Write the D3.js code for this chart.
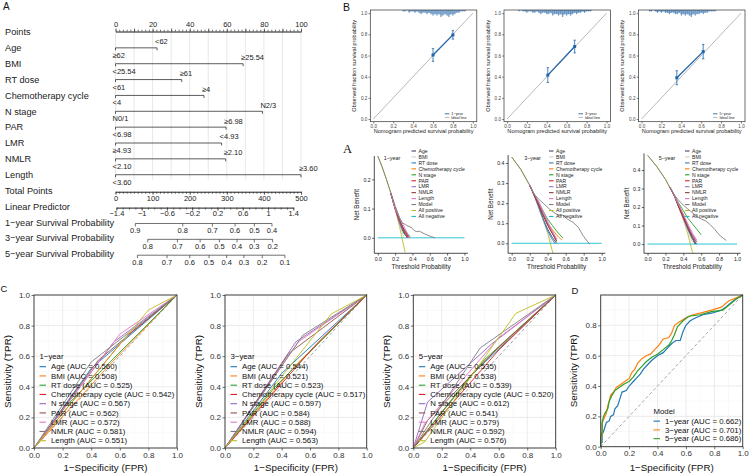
<!DOCTYPE html>
<html>
<head>
<meta charset="utf-8">
<script src="https://cdn.jsdelivr.net/npm/d3@7"></script>
<style>
body { margin: 0; background: #fff; }
svg { display: block; font-family: "Liberation Sans", Arial, sans-serif; }
</style>
</head>
<body>
<div id="chart"></div>
<script>
"use strict";

// ---------------- data ----------------
// Nomogram
let nomoVars = ["Age", "BMI", "RT dose", "Chemotherapy cycle", "N stage", "PAR", "LMR", "NMLR", "Length"];
let nomoPoints = [22.4, 68.8, 35.7, 47.7, 79.2, 59.6, 57.2, 59.4, 100];
let nomoHighLabel = ["<62", "≥25.54", "≥61", "≥4", "N2/3", "≥6.98", "<4.93", "≥2.10", "≥3.60"];
let nomoLowLabel = ["≥62", "<25.54", "<61", "<4", "N0/1", "<6.98", "≥4.93", "<2.10", "<3.60"];
let pointsTicks = [0, 20, 40, 60, 80, 100];
let totalTicks = [0, 100, 200, 300, 400, 500];
let lpTicks = [-1.4, -1, -0.6, -0.2, 0.2, 0.6, 1, 1.4];
let survNames = ["1−year Survival Probability", "3−year Survival Probability", "5−year Survival Probability"];
let survTicks = [
    [0.9, 0.8, 0.7, 0.6, 0.5, 0.4],
    [0.8, 0.7, 0.6, 0.5, 0.4, 0.3, 0.2],
    [0.8, 0.7, 0.6, 0.5, 0.4, 0.3, 0.2, 0.1]
];
// cloglog(S) = linear predictor + shift
let survShift = [-1.15, -0.597, -0.433];

// Calibration
let calYears = ["1−year", "3−year", "5−year"];
let calPred = [[0.60, 0.80], [0.41, 0.68], [0.355, 0.62]];
let calObs = [[0.605, 0.795], [0.415, 0.685], [0.39, 0.637]];
let calErr = [[0.06, 0.04], [0.07, 0.06], [0.066, 0.068]];
let rugStart = [0.30, 0.12, 0.08];
let rugCounts = [
    [1, 1, 0, 2, 1, 1, 2, 1, 2, 3, 2, 2, 3, 2, 3, 4, 3, 4, 3, 5, 4, 3, 4, 5, 3, 4, 3, 2, 2, 1, 1, 1],
    [1, 0, 1, 1, 2, 1, 1, 2, 2, 1, 2, 3, 2, 2, 3, 3, 2, 4, 3, 3, 4, 3, 5, 3, 4, 3, 4, 3, 2, 3, 2, 2, 1, 2, 1, 1, 1],
    [1, 1, 0, 1, 2, 1, 2, 1, 2, 2, 3, 2, 2, 3, 3, 2, 4, 3, 4, 3, 4, 5, 3, 4, 3, 3, 2, 3, 2, 2, 1, 1, 1, 1]
];

// Decision curves
let dcaNames = ["Age", "BMI", "RT dose", "Chemotherapy cycle", "N stage", "PAR", "LMR", "NMLR", "Length", "Model", "All positive", "All negative"];
let dcaColors = ["#3d4868", "#d8cec4", "#2f7ebc", "#ff7f0e", "#2ca02c", "#d62728", "#9a72c4", "#8c3b3b", "#e377c2", "#7f7f7f", "#bcbd22", "#17becf"];
let dca1 = [
    [[0.15, 0.153], [0.2, 0.1], [0.25, 0.055], [0.3, 0.02], [0.34, 0.0]],
    [[0.15, 0.153], [0.2, 0.1], [0.25, 0.045], [0.3, 0.005], [0.32, -0.005]],
    [[0.15, 0.153], [0.2, 0.1], [0.25, 0.05], [0.3, 0.015], [0.35, 0.0]],
    [[0.15, 0.153], [0.2, 0.1], [0.25, 0.055], [0.3, 0.025], [0.36, 0.0]],
    [[0.15, 0.153], [0.2, 0.1], [0.25, 0.06], [0.3, 0.03], [0.37, 0.005]],
    [[0.15, 0.153], [0.2, 0.1], [0.25, 0.058], [0.3, 0.022], [0.35, 0.0]],
    [[0.15, 0.153], [0.2, 0.1], [0.25, 0.06], [0.3, 0.028], [0.36, 0.002]],
    [[0.15, 0.153], [0.2, 0.1], [0.25, 0.062], [0.3, 0.03], [0.35, 0.005]],
    [[0.15, 0.153], [0.2, 0.1], [0.25, 0.07], [0.3, 0.04], [0.35, 0.01], [0.38, 0.0]],
    [[0, 0.28], [0.05, 0.243], [0.1, 0.2], [0.15, 0.155], [0.2, 0.11], [0.25, 0.07], [0.28, 0.052], [0.32, 0.045], [0.35, 0.04], [0.39, 0.035], [0.42, 0.025], [0.45, 0.021], [0.48, 0.023], [0.51, 0.018], [0.55, 0.012], [0.6, 0.006], [0.66, 0.0]],
    [[0, 0.28], [0.05, 0.242], [0.1, 0.2], [0.15, 0.153], [0.2, 0.1], [0.25, 0.04], [0.3, -0.029], [0.315, -0.05]],
    [[0, 0], [1, 0]]
];
let dca3 = [
    [[0.2, 0.288], [0.25, 0.24], [0.3, 0.18], [0.35, 0.12], [0.4, 0.07], [0.45, 0.03], [0.5, 0.0]],
    [[0.2, 0.288], [0.25, 0.24], [0.3, 0.17], [0.35, 0.11], [0.4, 0.05], [0.45, 0.0]],
    [[0.2, 0.288], [0.25, 0.24], [0.3, 0.18], [0.35, 0.12], [0.4, 0.06], [0.45, 0.02], [0.48, 0.0]],
    [[0.2, 0.288], [0.25, 0.24], [0.3, 0.19], [0.35, 0.14], [0.4, 0.1], [0.45, 0.07], [0.5, 0.04], [0.56, 0.015]],
    [[0.2, 0.288], [0.25, 0.24], [0.3, 0.2], [0.35, 0.16], [0.4, 0.12], [0.45, 0.09], [0.5, 0.06], [0.57, 0.025]],
    [[0.2, 0.288], [0.25, 0.24], [0.3, 0.19], [0.35, 0.14], [0.4, 0.09], [0.45, 0.05], [0.5, 0.01]],
    [[0.2, 0.288], [0.25, 0.245], [0.3, 0.2], [0.35, 0.15], [0.4, 0.1], [0.45, 0.06], [0.5, 0.02]],
    [[0.2, 0.288], [0.25, 0.24], [0.3, 0.19], [0.35, 0.14], [0.4, 0.09], [0.45, 0.05], [0.5, 0.01]],
    [[0.2, 0.288], [0.25, 0.245], [0.3, 0.21], [0.35, 0.16], [0.4, 0.11], [0.45, 0.06], [0.5, 0.02]],
    [[0, 0.43], [0.1, 0.37], [0.2, 0.29], [0.25, 0.245], [0.3, 0.22], [0.35, 0.2], [0.42, 0.17], [0.48, 0.15], [0.52, 0.14], [0.57, 0.14], [0.62, 0.12], [0.68, 0.105], [0.74, 0.08], [0.79, 0.04], [0.84, 0.01], [0.87, -0.005]],
    [[0, 0.43], [0.1, 0.367], [0.2, 0.288], [0.3, 0.186], [0.35, 0.123], [0.4, 0.05], [0.45, -0.036], [0.46, -0.05]],
    [[0, 0], [1, 0]]
];
let dca5 = [
    [[0.25, 0.307], [0.3, 0.26], [0.35, 0.2], [0.4, 0.14], [0.45, 0.08], [0.5, 0.03], [0.53, 0.0]],
    [[0.25, 0.307], [0.3, 0.26], [0.35, 0.2], [0.4, 0.13], [0.45, 0.07], [0.5, 0.01]],
    [[0.25, 0.307], [0.3, 0.26], [0.35, 0.2], [0.4, 0.14], [0.45, 0.08], [0.5, 0.03], [0.55, 0.0]],
    [[0.25, 0.307], [0.3, 0.26], [0.35, 0.21], [0.4, 0.15], [0.45, 0.1], [0.5, 0.05], [0.55, 0.02]],
    [[0.25, 0.307], [0.3, 0.26], [0.35, 0.22], [0.4, 0.18], [0.45, 0.14], [0.5, 0.11], [0.55, 0.08], [0.6, 0.05]],
    [[0.25, 0.307], [0.3, 0.26], [0.35, 0.2], [0.4, 0.14], [0.45, 0.09], [0.5, 0.04], [0.55, 0.01]],
    [[0.25, 0.307], [0.3, 0.26], [0.35, 0.21], [0.4, 0.16], [0.45, 0.1], [0.5, 0.05], [0.55, 0.01]],
    [[0.25, 0.307], [0.3, 0.26], [0.35, 0.2], [0.4, 0.15], [0.45, 0.09], [0.5, 0.04], [0.54, 0.0]],
    [[0.25, 0.307], [0.3, 0.26], [0.35, 0.21], [0.4, 0.16], [0.45, 0.11], [0.5, 0.06], [0.55, 0.02]],
    [[0, 0.48], [0.1, 0.42], [0.2, 0.35], [0.25, 0.305], [0.3, 0.265], [0.35, 0.235], [0.4, 0.21], [0.45, 0.19], [0.5, 0.17], [0.55, 0.15], [0.6, 0.135], [0.65, 0.125], [0.7, 0.105], [0.75, 0.08], [0.8, 0.05], [0.85, 0.03], [0.88, 0.02]],
    [[0, 0.48], [0.1, 0.422], [0.2, 0.35], [0.3, 0.257], [0.4, 0.133], [0.45, 0.055], [0.5, -0.04], [0.51, -0.05]],
    [[0, 0], [1, 0]]
];

// ROC curves, single variables (C)
let rocColors = ["#1f77b4", "#ff7f0e", "#2ca02c", "#d62728", "#9467bd", "#8c564b", "#e377c2", "#7f7f7f", "#bcbd22"];
let rocAuc1 = ["0.560", "0.508", "0.525", "0.542", "0.567", "0.562", "0.572", "0.581", "0.551"];
let rocAuc3 = ["0.544", "0.521", "0.523", "0.517", "0.597", "0.584", "0.588", "0.594", "0.563"];
let rocAuc5 = ["0.535", "0.538", "0.539", "0.520", "0.612", "0.541", "0.579", "0.592", "0.576"];
let rocPts1 = [
    [[0.40, 0.52]], [[0.55, 0.566]], [[0.22, 0.27]], [[0.65, 0.734]], [[0.56, 0.694]],
    [[0.45, 0.574]], [[0.60, 0.744]], [[0.40, 0.562]], [[0.80, 0.902]]
];
let rocPts3 = [
    [[0.40, 0.488]], [[0.50, 0.542]], [[0.35, 0.396]], [[0.65, 0.684]], [[0.50, 0.694]],
    [[0.45, 0.618]], [[0.52, 0.696]], [[0.55, 0.738]], [[0.75, 0.876]]
];
let rocPts5 = [
    [[0.40, 0.47]], [[0.45, 0.526]], [[0.50, 0.578]], [[0.60, 0.64]], [[0.10, 0.30], [0.55, 0.68]],
    [[0.10, 0.18], [0.60, 0.66]], [[0.08, 0.16], [0.60, 0.72]], [[0.47, 0.654]], [[0.08, 0.04], [0.72, 0.88]]
];

// ROC curves, model (D)
let modelNames = ["1−year", "3−year", "5−year"];
let modelAuc = ["0.662", "0.701", "0.686"];
let modelColors = ["#1f77b4", "#ff7f0e", "#2ca02c"];
let modelRoc1 = [[0, 0], [0, 0.03], [0.01, 0.03], [0.01, 0.08], [0.02, 0.1], [0.03, 0.13], [0.04, 0.16], [0.06, 0.17], [0.07, 0.2], [0.09, 0.21], [0.1, 0.25], [0.12, 0.27], [0.13, 0.3], [0.14, 0.33], [0.15, 0.36], [0.18, 0.37], [0.2, 0.4], [0.23, 0.43], [0.25, 0.45], [0.28, 0.48], [0.3, 0.51], [0.33, 0.54], [0.36, 0.57], [0.4, 0.6], [0.44, 0.62], [0.47, 0.65], [0.5, 0.68], [0.53, 0.7], [0.56, 0.7], [0.58, 0.76], [0.6, 0.8], [0.63, 0.83], [0.67, 0.85], [0.72, 0.87], [0.78, 0.88], [0.85, 0.9], [0.88, 0.92], [0.92, 0.95], [0.96, 0.98], [1, 1]];
let modelRoc3 = [[0, 0], [0, 0.05], [0.01, 0.08], [0.01, 0.15], [0.02, 0.18], [0.03, 0.2], [0.04, 0.22], [0.05, 0.27], [0.06, 0.3], [0.07, 0.34], [0.09, 0.36], [0.11, 0.39], [0.14, 0.41], [0.17, 0.43], [0.2, 0.45], [0.22, 0.49], [0.24, 0.51], [0.26, 0.55], [0.29, 0.58], [0.32, 0.6], [0.35, 0.61], [0.38, 0.64], [0.41, 0.67], [0.44, 0.71], [0.48, 0.72], [0.5, 0.75], [0.52, 0.8], [0.55, 0.82], [0.6, 0.85], [0.65, 0.87], [0.7, 0.88], [0.78, 0.9], [0.85, 0.92], [0.9, 0.96], [0.95, 0.98], [1, 1]];
let modelRoc5 = [[0, 0], [0, 0.06], [0.01, 0.1], [0.01, 0.16], [0.02, 0.2], [0.03, 0.22], [0.05, 0.25], [0.06, 0.3], [0.08, 0.34], [0.1, 0.37], [0.13, 0.39], [0.16, 0.41], [0.2, 0.43], [0.23, 0.46], [0.26, 0.5], [0.29, 0.53], [0.32, 0.56], [0.36, 0.59], [0.4, 0.61], [0.44, 0.64], [0.48, 0.67], [0.5, 0.7], [0.52, 0.74], [0.54, 0.79], [0.58, 0.83], [0.62, 0.86], [0.7, 0.87], [0.78, 0.89], [0.86, 0.9], [0.9, 0.93], [0.95, 0.97], [1, 1]];

// ---------------- canvas ----------------
let svg = d3.select("#chart")
    .append("svg")
    .attr("width", 750)
    .attr("height", 475);

svg.append("rect")
    .attr("width", 750)
    .attr("height", 475)
    .attr("fill", "#fff");

function styleAxis(g, size, color) {
    g.attr("font-size", size).attr("font-family", null);
    g.selectAll("path, line").attr("stroke", color || "#333").attr("stroke-width", 0.7);
    g.selectAll("text").attr("fill", color || "#222");
}

function letter(x, y, t, size, family) {
    svg.append("text")
        .attr("x", x)
        .attr("y", y)
        .style("font-size", size + "px")
        .style("font-family", family || null)
        .attr("fill", "#111")
        .text(t);
}

// ---------------- A: nomogram ----------------
let nomoRows = ["Points"].concat(nomoVars, ["Total Points", "Linear Predictor"], survNames);
let rowY = d3.scalePoint().domain(nomoRows).range([32, 254]);
let ptsX = d3.scaleLinear().domain([0, 100]).range([115.5, 301]);
let totX = d3.scaleLinear().domain([0, 500]).range([115.5, 301]);
let lpX = d3.scaleLinear().domain([-1.4, 1.4]).range([116.4, 293.3]);

let nomo = svg.append("g");

nomo.selectAll("text.rowlab")
    .data(nomoRows)
    .join("text")
    .attr("class", "rowlab")
    .attr("x", 5)
    .attr("y", d => rowY(d))
    .attr("dy", "0.35em")
    .style("font-size", "9.2px")
    .attr("fill", "#222")
    .text(d => d);

// vertical reference lines
nomo.selectAll("line.grid")
    .data(d3.range(0, 101, 10))
    .join("line")
    .attr("class", "grid")
    .attr("x1", d => ptsX(d))
    .attr("x2", d => ptsX(d))
    .attr("y1", rowY("Points"))
    .attr("y2", rowY("Length") + 5)
    .attr("stroke", "#d6d6d6")
    .attr("stroke-width", 0.6);

// Points axis
let pY = rowY("Points") - 0.5;
nomo.append("g")
    .attr("transform", `translate(0,${pY})`)
    .call(d3.axisTop(ptsX).tickValues(d3.range(0, 101, 2)).tickSize(1.8).tickSizeOuter(0).tickFormat(""))
    .call(g => styleAxis(g, 7.5));
nomo.append("g")
    .attr("transform", `translate(0,${pY})`)
    .call(d3.axisTop(ptsX).tickValues(d3.range(0, 101, 10)).tickSize(3).tickSizeOuter(0).tickPadding(1.5)
        .tickFormat(d => pointsTicks.includes(d) ? d : ""))
    .call(g => styleAxis(g, 7.5));

// variable bars
nomoVars.forEach((v, i) => {
    let y = rowY(v);
    let xs = ptsX(0);
    let xe = ptsX(nomoPoints[i]);
    nomo.append("path")
        .attr("d", `M${xs},${y + 2.5}V${y}H${xe}V${y + 2.5}`)
        .attr("fill", "none")
        .attr("stroke", "#333")
        .attr("stroke-width", 0.8);
    nomo.append("text")
        .attr("x", xe - 2)
        .attr("y", y - 3.6)
        .style("font-size", "7.5px")
        .attr("fill", "#222")
        .text(nomoHighLabel[i]);
    nomo.append("text")
        .attr("x", xs - 3)
        .attr("y", y + 10)
        .style("font-size", "7.5px")
        .attr("fill", "#222")
        .text(nomoLowLabel[i]);
});

// Total points axis
let tY = rowY("Total Points") + 1.2;
nomo.append("g")
    .attr("transform", `translate(0,${tY})`)
    .call(d3.axisBottom(totX).tickValues(d3.range(0, 501, 10)).tickSize(2).tickSizeOuter(0).tickFormat(""))
    .call(g => styleAxis(g, 7.5));
nomo.append("g")
    .attr("transform", `translate(0,${tY})`)
    .call(d3.axisBottom(totX).tickValues(totalTicks).tickSize(3).tickSizeOuter(0).tickPadding(0.8))
    .call(g => styleAxis(g, 7.5));

// Linear predictor axis
let lY = rowY("Linear Predictor") + 1.2;
nomo.append("g")
    .attr("transform", `translate(0,${lY})`)
    .call(d3.axisBottom(lpX).tickValues(d3.range(-14, 15, 1).map(d => d / 10)).tickSize(2).tickSizeOuter(0).tickFormat(""))
    .call(g => styleAxis(g, 7.5));
nomo.append("g")
    .attr("transform", `translate(0,${lY})`)
    .call(d3.axisBottom(lpX).tickValues(lpTicks).tickSize(3).tickSizeOuter(0).tickPadding(0.5)
        .tickFormat(d => String(d).replace("-", "−")))
    .call(g => styleAxis(g, 7.5));

// survival probability axes
survNames.forEach((name, k) => {
    let y = rowY(name) + 1.2;
    let sx = s => lpX(Math.log(-Math.log(s)) - survShift[k]);
    let ticks = survTicks[k];
    nomo.append("line")
        .attr("x1", sx(ticks[0]))
        .attr("x2", sx(ticks[ticks.length - 1]))
        .attr("y1", y)
        .attr("y2", y)
        .attr("stroke", "#333")
        .attr("stroke-width", 0.7);
    nomo.selectAll(null)
        .data(ticks)
        .join("line")
        .attr("x1", d => sx(d))
        .attr("x2", d => sx(d))
        .attr("y1", y)
        .attr("y2", y + 3)
        .attr("stroke", "#333")
        .attr("stroke-width", 0.7);
    nomo.selectAll(null)
        .data(ticks)
        .join("text")
        .attr("x", d => sx(d))
        .attr("y", y + 9.3)
        .attr("text-anchor", "middle")
        .style("font-size", "7.5px")
        .attr("fill", "#222")
        .text(d => d3.format(".1f")(d));
});

letter(3, 10, "A", 10);

// ---------------- B: calibration ----------------
let calLeft = [370.3, 504, 638.5];
let calW = 106.5;
let calBlue = "#2166ac";

calYears.forEach((yr, k) => {
    let x = d3.scaleLinear().domain([-0.03, 1.04]).range([calLeft[k], calLeft[k] + calW]);
    let y = d3.scaleLinear().domain([-0.025, 1.03]).range([121.7, 10]);
    let g = svg.append("g");
    let ticks = [0, 0.2, 0.4, 0.6, 0.8, 1];

    // ideal line
    g.append("line")
        .attr("x1", x(0)).attr("y1", y(0))
        .attr("x2", x(1)).attr("y2", y(1))
        .attr("stroke", "#b0b0b0")
        .attr("stroke-width", 0.9);

    // spike histogram of predictions along top
    g.selectAll("line.rug")
        .data(rugCounts[k])
        .join("line")
        .attr("class", "rug")
        .attr("x1", (d, i) => x(rugStart[k] + i * 0.02))
        .attr("x2", (d, i) => x(rugStart[k] + i * 0.02))
        .attr("y1", 10)
        .attr("y2", d => 10 + d * 1.4)
        .attr("stroke", calBlue)
        .attr("stroke-width", 0.8);
    g.selectAll("line.rug2")
        .data(rugCounts[k])
        .join("line")
        .attr("class", "rug2")
        .attr("x1", (d, i) => x(rugStart[k] + i * 0.02 + 0.01))
        .attr("x2", (d, i) => x(rugStart[k] + i * 0.02 + 0.01))
        .attr("y1", 10)
        .attr("y2", (d, i) => 10 + Math.max(0, (d + (rugCounts[k][i + 1] || 0)) / 2) * 1.2)
        .attr("stroke", calBlue)
        .attr("stroke-width", 0.6);

    // observed vs predicted
    let pts = calPred[k].map((p, i) => ({ p: p, o: calObs[k][i], e: calErr[k][i] }));
    g.append("path")
        .datum(pts)
        .attr("d", d3.line().x(d => x(d.p)).y(d => y(d.o)))
        .attr("fill", "none")
        .attr("stroke", calBlue)
        .attr("stroke-width", 1.3);
    g.selectAll("path.err")
        .data(pts)
        .join("path")
        .attr("class", "err")
        .attr("d", d => `M${x(d.p) - 1.2},${y(d.o + d.e)}h2.4M${x(d.p)},${y(d.o + d.e)}V${y(d.o - d.e)}M${x(d.p) - 1.2},${y(d.o - d.e)}h2.4`)
        .attr("fill", "none")
        .attr("stroke", calBlue)
        .attr("stroke-width", 0.8);
    g.selectAll("rect.pt")
        .data(pts)
        .join("rect")
        .attr("class", "pt")
        .attr("x", d => x(d.p) - 1.5)
        .attr("y", d => y(d.o) - 1.5)
        .attr("width", 3)
        .attr("height", 3)
        .attr("fill", calBlue);

    // frame and axes
    g.append("rect")
        .attr("x", calLeft[k])
        .attr("y", 10)
        .attr("width", calW)
        .attr("height", 111.7)
        .attr("fill", "none")
        .attr("stroke", "#333")
        .attr("stroke-width", 0.7);
    g.append("g")
        .attr("transform", "translate(0,121.7)")
        .call(d3.axisBottom(x).tickValues(ticks).tickSize(1.8).tickPadding(1.2).tickFormat(d3.format(".1f")))
        .call(a => a.select(".domain").remove())
        .call(a => styleAxis(a, 4.6, "#444"));
    g.append("g")
        .attr("transform", `translate(${calLeft[k]},0)`)
        .call(d3.axisLeft(y).tickValues(ticks).tickSize(1.8).tickPadding(1.2).tickFormat(d3.format(".1f")))
        .call(a => a.select(".domain").remove())
        .call(a => styleAxis(a, 4.6, "#444"));

    g.append("text")
        .attr("x", calLeft[k] + calW / 2)
        .attr("y", 133)
        .attr("text-anchor", "middle")
        .style("font-size", "5.6px")
        .attr("fill", "#222")
        .text("Nomogram predicted survival probability");
    g.append("text")
        .attr("transform", `translate(${calLeft[k] - 14.5},${(10 + 121.7) / 2}) rotate(-90)`)
        .attr("text-anchor", "middle")
        .style("font-size", "5.6px")
        .attr("fill", "#222")
        .text("Observed fraction survival probability");

    // legend
    let lx = calLeft[k] + calW - 32;
    [[yr, calBlue], ["Ideal line", "#b0b0b0"]].forEach((item, i) => {
        let ly = 113.8 + i * 3.6;
        g.append("line")
            .attr("x1", lx).attr("x2", lx + 4.5)
            .attr("y1", ly).attr("y2", ly)
            .attr("stroke", item[1])
            .attr("stroke-width", 0.9);
        g.append("text")
            .attr("x", lx + 6.5)
            .attr("y", ly)
            .attr("dy", "0.35em")
            .style("font-size", "3.8px")
            .attr("fill", "#222")
            .text(item[0]);
    });
});

letter(343, 10.8, "B", 10.5);

// ---------------- A (second): decision curves ----------------
let dcaPanels = [
    { data: dca1, xr: [374.3, 467.9], yd: [-0.053, 0.28], top: 156, yt: [0, 0.1, 0.2], label: "1−year", labX: 392, legX: 411.5 },
    { data: dca3, xr: [508.1, 605.3], yd: [-0.05, 0.44], top: 155, yt: [0, 0.1, 0.2, 0.3, 0.4], label: "3−year", labX: 532.5, legX: 549 },
    { data: dca5, xr: [644, 740.6], yd: [-0.05, 0.49], top: 153.4, yt: [0, 0.1, 0.2, 0.3, 0.4], label: "5−year", labX: 667, legX: 685 }
];
let dcaOrder = [10, 11, 0, 1, 2, 3, 4, 5, 6, 7, 8, 9];

dcaPanels.forEach(p => {
    let x = d3.scaleLinear().domain([-0.04, 1.04]).range(p.xr);
    let y = d3.scaleLinear().domain(p.yd).range([253.3, p.top]);
    let g = svg.append("g");
    let line = d3.line().x(d => x(d[0])).y(d => y(d[1]));

    dcaOrder.forEach(i => {
        g.append("path")
            .datum(p.data[i])
            .attr("d", line)
            .attr("fill", "none")
            .attr("stroke", dcaColors[i])
            .attr("stroke-width", 0.9);
    });

    g.append("path")
        .attr("d", `M${p.xr[0]},${p.top}V253.3H${p.xr[1]}`)
        .attr("fill", "none")
        .attr("stroke", "#222")
        .attr("stroke-width", 0.8);
    g.append("g")
        .attr("transform", "translate(0,253.3)")
        .call(d3.axisBottom(x).tickValues([0, 0.2, 0.4, 0.6, 0.8, 1]).tickSize(2.2).tickPadding(1.5).tickFormat(d3.format(".1f")))
        .call(a => a.select(".domain").remove())
        .call(a => styleAxis(a, 5.2, "#222"));
    g.append("g")
        .attr("transform", `translate(${p.xr[0]},0)`)
        .call(d3.axisLeft(y).tickValues(p.yt).tickSize(2.2).tickPadding(1.5).tickFormat(d3.format(".1f")))
        .call(a => a.select(".domain").remove())
        .call(a => styleAxis(a, 5.2, "#222"));

    g.append("text")
        .attr("x", (p.xr[0] + p.xr[1]) / 2)
        .attr("y", 269)
        .attr("text-anchor", "middle")
        .style("font-size", "6.3px")
        .attr("fill", "#222")
        .text("Threshold Probability");
    g.append("text")
        .attr("transform", `translate(${p.xr[0] - 15},${(p.top + 253.3) / 2}) rotate(-90)`)
        .attr("text-anchor", "middle")
        .style("font-size", "6.3px")
        .attr("fill", "#222")
        .text("Net Benefit");
    g.append("text")
        .attr("x", p.labX)
        .attr("y", 157.7)
        .attr("dy", "0.35em")
        .attr("text-anchor", "middle")
        .style("font-size", "5.4px")
        .attr("fill", "#222")
        .text(p.label);

    dcaNames.forEach((n, i) => {
        let ly = 151 + i * 5.95;
        g.append("line")
            .attr("x1", p.legX).attr("x2", p.legX + 4.5)
            .attr("y1", ly).attr("y2", ly)
            .attr("stroke", dcaColors[i])
            .attr("stroke-width", 1.1);
        g.append("text")
            .attr("x", p.legX + 7)
            .attr("y", ly)
            .attr("dy", "0.35em")
            .style("font-size", "5.1px")
            .attr("fill", "#222")
            .text(n);
    });
});

letter(343, 153, "A", 12.5, "Liberation Serif, serif");

// ---------------- C & D: ROC curves ----------------
function drawRoc(cfg) {
    let x = d3.scaleLinear().domain([0, 1]).range([cfg.left, cfg.right]);
    let y = d3.scaleLinear().domain([0, 1]).range([cfg.bottom, cfg.top]);
    let g = svg.append("g");
    let minor = [0.1, 0.3, 0.5, 0.7, 0.9];
    let major = [0, 0.2, 0.4, 0.6, 0.8, 1];

    [[minor, "#f2f2f2", 0.5], [major, "#e6e6e6", 0.8]].forEach(([vals, col, w]) => {
        g.selectAll(null).data(vals).join("line")
            .attr("x1", d => x(d)).attr("x2", d => x(d))
            .attr("y1", cfg.top).attr("y2", cfg.bottom)
            .attr("stroke", col).attr("stroke-width", w);
        g.selectAll(null).data(vals).join("line")
            .attr("x1", cfg.left).attr("x2", cfg.right)
            .attr("y1", d => y(d)).attr("y2", d => y(d))
            .attr("stroke", col).attr("stroke-width", w);
    });

    g.append("line")
        .attr("x1", x(0)).attr("y1", y(0))
        .attr("x2", x(1)).attr("y2", y(1))
        .attr("stroke", "#8a8a8a")
        .attr("stroke-width", 0.8)
        .attr("stroke-dasharray", "3,2.5");

    let line = d3.line().x(d => x(d[0])).y(d => y(d[1]));
    cfg.series.forEach(s => {
        g.append("path")
            .datum(s.points)
            .attr("d", line)
            .attr("fill", "none")
            .attr("stroke", s.color)
            .attr("stroke-width", cfg.lw);
    });

    g.append("rect")
        .attr("x", cfg.left).attr("y", cfg.top)
        .attr("width", cfg.right - cfg.left)
        .attr("height", cfg.bottom - cfg.top)
        .attr("fill", "none")
        .attr("stroke", "#333")
        .attr("stroke-width", 0.9);

    g.append("g")
        .attr("transform", `translate(0,${cfg.bottom})`)
        .call(d3.axisBottom(x).tickValues(major).tickSize(2.5).tickPadding(1.5).tickFormat(d3.format(".1f")))
        .call(a => a.select(".domain").remove())
        .call(a => styleAxis(a, 8, "#333"));
    g.append("g")
        .attr("transform", `translate(${cfg.left},0)`)
        .call(d3.axisLeft(y).tickValues(cfg.yTicks).tickSize(2.5).tickPadding(1.5).tickFormat(d3.format(".1f")))
        .call(a => a.select(".domain").remove())
        .call(a => styleAxis(a, 8, "#333"));

    g.append("text")
        .attr("x", (cfg.left + cfg.right) / 2)
        .attr("y", 471)
        .attr("text-anchor", "middle")
        .style("font-size", "9.8px")
        .attr("fill", "#111")
        .text("1−Specificity (FPR)");
    g.append("text")
        .attr("transform", `translate(${cfg.left - 23.5},${(cfg.top + cfg.bottom) / 2}) rotate(-90)`)
        .attr("text-anchor", "middle")
        .style("font-size", "9.8px")
        .attr("fill", "#111")
        .text("Sensitivity (TPR)");

    // legend
    g.append("text")
        .attr("x", cfg.legX)
        .attr("y", cfg.legY)
        .attr("dy", "0.35em")
        .style("font-size", "7.8px")
        .attr("fill", "#111")
        .text(cfg.title);
    cfg.series.forEach((s, i) => {
        let ly = cfg.legY + cfg.legStep * (i + 1.08);
        g.append("line")
            .attr("x1", cfg.legX).attr("x2", cfg.legX + 6.5)
            .attr("y1", ly).attr("y2", ly)
            .attr("stroke", s.color)
            .attr("stroke-width", 1.1);
        g.append("text")
            .attr("x", cfg.legX + 11.5)
            .attr("y", ly)
            .attr("dy", "0.35em")
            .style("font-size", "7.8px")
            .attr("fill", "#111")
            .text(s.label);
    });
}

let rocC = [
    { pts: rocPts1, auc: rocAuc1, title: "1−year", left: 34, right: 177 },
    { pts: rocPts3, auc: rocAuc3, title: "3−year", left: 225, right: 366.7 },
    { pts: rocPts5, auc: rocAuc5, title: "5−year", left: 413.3, right: 555.7 }
];

rocC.forEach(c => {
    drawRoc({
        left: c.left, right: c.right, top: 295, bottom: 448,
        yTicks: [0, 0.2, 0.4, 0.6, 0.8, 1], lw: 0.9,
        title: c.title, legX: c.left + 5.5, legY: 356.7, legStep: 9.25,
        series: nomoVars.map((v, i) => ({
            color: rocColors[i],
            label: `${v} (AUC = ${c.auc[i]})`,
            points: [[0, 0]].concat(c.pts[i], [[1, 1]])
        }))
    });
});

let modelRoc = [modelRoc1, modelRoc3, modelRoc5];
drawRoc({
    left: 600.7, right: 742.7, top: 295, bottom: 446.7,
    yTicks: [0, 0.2, 0.4, 0.6, 0.8], lw: 1.2,
    title: "Model", legX: 653.5, legY: 411.7, legStep: 8.75,
    series: modelNames.map((n, i) => ({
        color: modelColors[i],
        label: `${n} (AUC = ${modelAuc[i]})`,
        points: modelRoc[i]
    }))
});

letter(0.5, 291.5, "C", 9.5);
letter(571.5, 293.5, "D", 9.5);
</script>
</body>
</html>
